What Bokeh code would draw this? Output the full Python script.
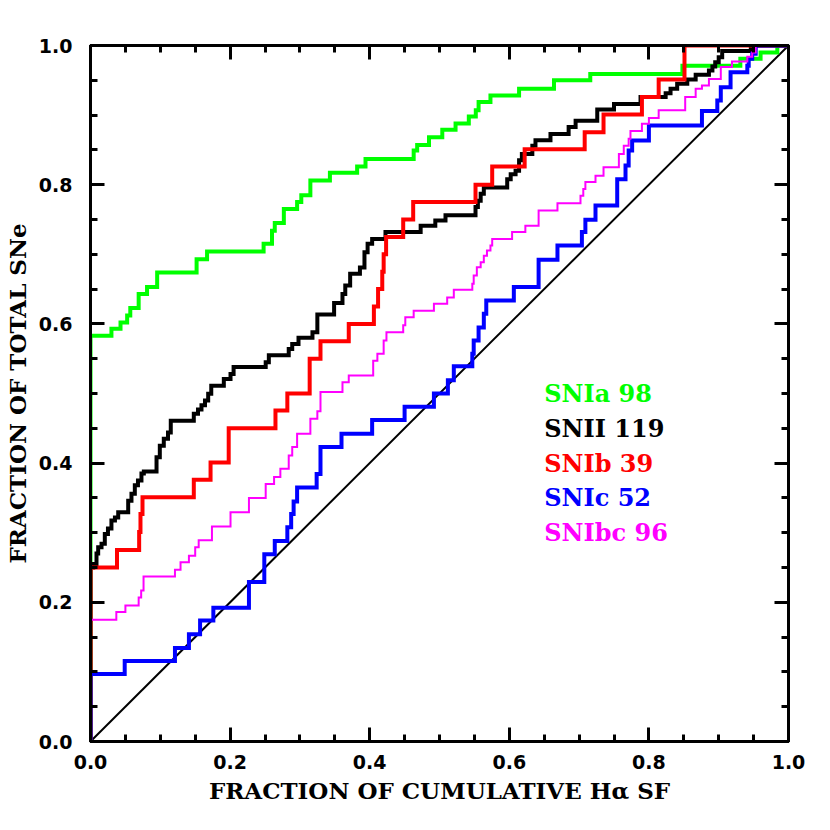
from bokeh.plotting import figure
from bokeh.models import LinearAxis, SingleIntervalTicker, PrintfTickFormatter, Range1d, Label
from bokeh.embed import file_html
from bokeh.resources import INLINE

# ---------------- data ----------------
# each list: (x where the cumulative curve steps up, new y value)
snia_steps = [(0.0, 0.583), (0.030, 0.593), (0.043, 0.602), (0.0525, 0.612), (0.057, 0.623),
              (0.069, 0.643), (0.081, 0.653), (0.0955, 0.674), (0.152, 0.693), (0.167, 0.704),
              (0.248, 0.715), (0.260, 0.734), (0.264, 0.745), (0.277, 0.765), (0.296, 0.775),
              (0.302, 0.785), (0.315, 0.806), (0.343, 0.817), (0.382, 0.826), (0.394, 0.837),
              (0.463, 0.849), (0.468, 0.857), (0.485, 0.868), (0.504, 0.879), (0.523, 0.888),
              (0.542, 0.898), (0.552, 0.907), (0.556, 0.919), (0.573, 0.928), (0.614, 0.938),
              (0.664, 0.950), (0.716, 0.959), (0.848, 0.971), (0.931, 0.981), (0.960, 0.990),
              (0.984, 1.0), (1.0, 1.0)]

snii_steps = [(0.0, 0.250), (0.004, 0.255), (0.0086, 0.270), (0.011, 0.279), (0.0158, 0.284),
              (0.0205, 0.298), (0.025, 0.306), (0.030, 0.3175), (0.035, 0.322), (0.0397, 0.3295),
              (0.054, 0.346), (0.0587, 0.356), (0.0635, 0.368), (0.068, 0.375), (0.073, 0.385),
              (0.0764, 0.388), (0.0946, 0.4085), (0.0993, 0.425), (0.105, 0.435), (0.111, 0.444),
              (0.115, 0.461), (0.148, 0.471), (0.154, 0.477), (0.159, 0.483), (0.164, 0.490),
              (0.1686, 0.4995), (0.173, 0.511), (0.191, 0.521), (0.2006, 0.528), (0.205, 0.538),
              (0.251, 0.545), (0.2555, 0.555), (0.284, 0.564), (0.289, 0.571), (0.298, 0.580),
              (0.318, 0.588), (0.325, 0.6135), (0.349, 0.630), (0.361, 0.643), (0.365, 0.655),
              (0.372, 0.672), (0.386, 0.681), (0.3925, 0.703), (0.397, 0.715), (0.4035, 0.722),
              (0.4226, 0.732), (0.473, 0.741), (0.494, 0.7486), (0.5086, 0.756), (0.5516, 0.768),
              (0.555, 0.777), (0.559, 0.787), (0.5635, 0.796), (0.597, 0.808), (0.602, 0.815),
              (0.609, 0.820), (0.614, 0.835), (0.618, 0.844), (0.633, 0.856), (0.6375, 0.864),
              (0.659, 0.873), (0.685, 0.883), (0.695, 0.892), (0.726, 0.908), (0.750, 0.916),
              (0.788, 0.926), (0.824, 0.9315), (0.831, 0.938), (0.8405, 0.945), (0.855, 0.951),
              (0.867, 0.958), (0.886, 0.964), (0.891, 0.970), (0.895, 0.976), (0.900, 0.983),
              (0.905, 0.992), (0.946, 1.0), (1.0, 1.0)]

snib_steps = [(0.0, 0.250), (0.038, 0.275), (0.0697, 0.301), (0.0716, 0.327), (0.0745, 0.351),
              (0.148, 0.376), (0.172, 0.401), (0.198, 0.450), (0.265, 0.4755), (0.282, 0.500),
              (0.314, 0.550), (0.3295, 0.575), (0.370, 0.600), (0.406, 0.625), (0.412, 0.650),
              (0.418, 0.675), (0.420, 0.700), (0.4235, 0.725), (0.448, 0.750), (0.4623, 0.775),
              (0.5516, 0.800), (0.5755, 0.826), (0.622, 0.851), (0.708, 0.8755), (0.735, 0.901),
              (0.790, 0.926), (0.814, 0.951), (0.851, 1.0), (1.0, 1.0)]

snic_steps = [(0.0, 0.097), (0.049, 0.1155), (0.121, 0.1345), (0.141, 0.154), (0.157, 0.174),
              (0.176, 0.192), (0.227, 0.229), (0.249, 0.269), (0.264, 0.288), (0.282, 0.308),
              (0.2875, 0.327), (0.291, 0.345), (0.296, 0.365), (0.324, 0.3845), (0.3295, 0.423),
              (0.3596, 0.442), (0.4035, 0.462), (0.450, 0.481), (0.492, 0.500), (0.512, 0.519),
              (0.5205, 0.539), (0.547, 0.557), (0.549, 0.576), (0.556, 0.595), (0.5635, 0.6145),
              (0.567, 0.6336), (0.6065, 0.653), (0.642, 0.692), (0.669, 0.7126), (0.704, 0.732),
              (0.709, 0.7495), (0.7235, 0.770), (0.7546, 0.808), (0.7665, 0.8276), (0.771, 0.849),
              (0.776, 0.8635), (0.800, 0.885), (0.876, 0.906), (0.898, 0.921), (0.903, 0.940),
              (0.917, 0.9617), (0.941, 0.971), (0.943, 0.981), (0.948, 0.988), (0.953, 1.0),
              (1.0, 1.0)]

snibc_steps = [(0.0, 0.175), (0.037, 0.186), (0.050, 0.1954), (0.069, 0.207), (0.0726, 0.217),
               (0.076, 0.237), (0.121, 0.2467), (0.129, 0.2576), (0.141, 0.267), (0.150, 0.279),
               (0.155, 0.289), (0.174, 0.309), (0.2006, 0.3295), (0.227, 0.350), (0.251, 0.370),
               (0.263, 0.380), (0.272, 0.392), (0.284, 0.411), (0.289, 0.423), (0.296, 0.442),
               (0.315, 0.4636), (0.325, 0.4746), (0.3295, 0.502), (0.361, 0.516), (0.370, 0.526),
               (0.405, 0.547), (0.411, 0.557), (0.420, 0.576), (0.424, 0.588), (0.448, 0.598),
               (0.451, 0.6096), (0.463, 0.619), (0.492, 0.629), (0.511, 0.638), (0.5205, 0.649),
               (0.547, 0.6576), (0.549, 0.6695), (0.5535, 0.6815), (0.559, 0.6887), (0.5635, 0.698),
               (0.568, 0.7055), (0.573, 0.7126), (0.5755, 0.722), (0.604, 0.732), (0.623, 0.741),
               (0.642, 0.763), (0.669, 0.7735), (0.702, 0.784), (0.706, 0.794), (0.709, 0.804),
               (0.7235, 0.813), (0.735, 0.825), (0.757, 0.844), (0.764, 0.856), (0.771, 0.866),
               (0.7736, 0.877), (0.790, 0.8875), (0.800, 0.896), (0.814, 0.907), (0.852, 0.926),
               (0.867, 0.938), (0.876, 0.9425), (0.886, 0.952), (0.903, 0.969), (0.919, 0.977),
               (0.941, 0.984), (0.948, 0.990), (0.953, 1.0), (1.0, 1.0)]

series_names = ["SNIa", "SNII", "SNIb", "SNIc", "SNIbc"]
series_counts = [98, 119, 39, 52, 96]
series_colors = ["#00FF00", "#000000", "#FF0000", "#0000FF", "#FF00FF"]
series_widths = [4, 4, 4, 4, 2]
series_steps = [snia_steps, snii_steps, snib_steps, snic_steps, snibc_steps]

diag_x = [0.0, 1.0]
diag_y = [0.0, 1.0]

x_title = "FRACTION OF CUMULATIVE H\u03b1 SF"
y_title = "FRACTION OF TOTAL SNe"

# ---------------- figure ----------------
p = figure(width=814, height=814, x_range=Range1d(0, 1), y_range=Range1d(0, 1),
           output_backend="svg", toolbar_location=None,
           min_border_left=90, min_border_right=26, min_border_top=45, min_border_bottom=73)
p.grid.visible = False
p.outline_line_color = "black"
p.outline_line_width = 3
p.background_fill_color = "white"
p.border_fill_color = "white"

p.add_layout(LinearAxis(), "above")
p.add_layout(LinearAxis(), "right")

for ax in p.axis:
    ax.ticker = SingleIntervalTicker(interval=0.2, num_minor_ticks=4)
    ax.formatter = PrintfTickFormatter(format="%.1f")
    ax.major_tick_in = 14
    ax.major_tick_out = 0
    ax.minor_tick_in = 7
    ax.minor_tick_out = 0
    ax.axis_line_width = 3
    ax.major_tick_line_width = 3
    ax.minor_tick_line_width = 3
    ax.major_label_text_font = "DejaVu Sans"
    ax.major_label_text_font_style = "bold"
    ax.major_label_text_font_size = "19px"
    ax.major_label_text_color = "black"

for ax in (p.above[0], p.right[0]):
    ax.major_label_text_font_size = "0px"
    ax.major_label_text_alpha = 0
    ax.major_label_standoff = 0

xa = p.below[0]
xa.major_label_standoff = 13
xa.axis_label = x_title
xa.axis_label_standoff = 5
ya = p.left[0]
ya.major_label_standoff = 18
ya.axis_label = y_title
ya.axis_label_standoff = 5
for ax in (xa, ya):
    ax.axis_label_text_font = "DejaVu Serif"
    ax.axis_label_text_font_style = "bold"
    ax.axis_label_text_font_size = "23px"
    ax.axis_label_text_color = "black"

p.line(diag_x, diag_y, line_color="black", line_width=2)

for steps, col, w in zip(series_steps, series_colors, series_widths):
    xs = [0.0] + [s[0] for s in steps]
    ys = [0.0] + [s[1] for s in steps]
    p.step(xs, ys, mode="after", line_color=col, line_width=w, line_join="miter")

for i, (nm, cnt, col) in enumerate(zip(series_names, series_counts, series_colors)):
    p.add_layout(Label(x=0.65, y=0.5 - 0.05 * i, text=f"{nm} {cnt}", text_color=col,
                       text_font="DejaVu Serif", text_font_style="bold",
                       text_font_size="24px", text_baseline="alphabetic"))

open("out.html", "w").write(file_html(p, INLINE))
